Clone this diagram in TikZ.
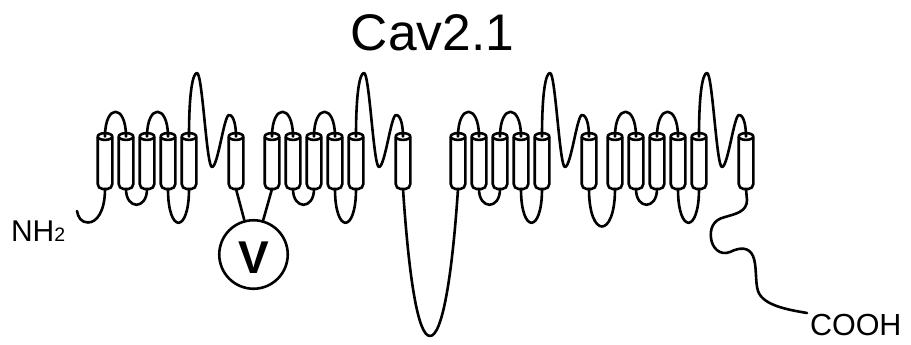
\documentclass[tikz,border=0pt]{standalone}
\usepackage{fontspec}
\setmainfont{Liberation Sans}
\tikzset{
  lp/.style={line width=2.6pt, line cap=round, line join=round},
  cylbody/.style={line width=2.6pt, fill=white, line join=round},
  lbl/.style={inner sep=0pt, outer sep=0pt}
}
% #1 name, #2 x position
\newcommand\tmcyl[2]{%
  \coordinate (#1t) at ({#2},136.5);
  \coordinate (#1b) at ({#2},189);
  \draw[cylbody, rounded corners=5pt] ({#2-7.3},136.5) -- ({#2-7.3},189) -- ({#2+7.3},189) -- ({#2+7.3},136.5);
  \draw[cylbody] ({#2},136.5) ellipse [x radius=7.3pt, y radius=3.4pt];
}
\begin{document}
\begin{tikzpicture}[x=1pt,y=-1pt]
\useasboundingbox (0,0) rectangle (911,345);

\foreach \d/\x in {1/105,2/272,3/458,4/615}{
  \foreach \i in {1,...,5}{\tmcyl{c\d\i}{\x+21*(\i-1)}}
  \tmcyl{c\d6}{\x+131}
  \draw[lp] (c\d1t) .. controls +(0,-33) and +(0,-33) .. (c\d2t);
  \draw[lp] (c\d3t) .. controls +(0,-33) and +(0,-33) .. (c\d4t);
  \draw[lp] (c\d2b) .. controls +(0,21) and +(0,21) .. (c\d3b);
  \draw[lp] (c\d4b) .. controls +(0,45) and +(0,45) .. (c\d5b);
  \draw[lp] (c\d5t) .. controls +(0,-46) and +(-4,0) .. ({\x+92},73)
            .. controls +(5.5,0) and +(-5.5,0) .. ({\x+107},167)
            .. controls +(6,0) and +(-5,0) .. ({\x+124},115)
            .. controls +(5,0) and +(0,-10) .. (c\d6t);
}

% title
\node[lbl, anchor=base, font=\fontsize{51.5}{60}\selectfont] (title) at (432.5,50.7) {Cav2.1};

% N terminus
\coordinate (nterm) at (77,211);
\coordinate (nlow) at (88,222.5);
\draw[lp] (c11b) .. controls +(0,22) and +(9,0) .. (nlow) .. controls +(-7,0) and +(1,6) .. (nterm);
\node[lbl, anchor=base west, font=\fontsize{30}{36}\selectfont] (nh2) at (11,241.7) {NH{\fontsize{19.5}{22}\selectfont 2}};

% voltage sensor
\node[circle, draw, line width=2.6pt, minimum size=68.5pt, inner sep=0pt] (vsd) at (253.5,254.5) {};
\node[lbl, anchor=base, font=\bfseries\fontsize{46}{50}\selectfont] (vlabel) at (253.5,273.3) {V};
\draw[lp] (c16b) -- (vsd);
\draw[lp] (c21b) -- (vsd);

% II-III loop
\coordinate (bigbot) at (430,336);
\draw[lp] (c26b) .. controls +(6,90) and +(-12,0) .. (bigbot) .. controls +(12,0) and +(-6,90) .. (c31b);

% III-IV loop
\draw[lp] (c36b) .. controls +(0,50) and +(0,50) .. (c41b);

% C terminus
\coordinate (cterm) at (807,313);
\draw[lp] (c46b) -- (747,200) .. controls (747,212) and (735,214) .. (725,217)
   .. controls (712,220) and (710,230) .. (711,238)
   .. controls (712,248) and (720,256) .. (730,252)
   .. controls (740,247) and (749,247) .. (753,256)
   .. controls (757,265) and (755,282) .. (758,291)
   .. controls (763,306) and (790,310) .. (cterm);
\node[lbl, anchor=base west, font=\fontsize{30.5}{36}\selectfont] (cooh) at (810,335) {COOH};
\end{tikzpicture}
\end{document}
